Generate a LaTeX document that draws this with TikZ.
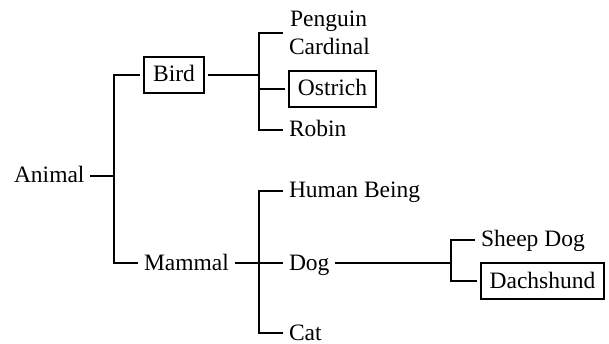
\documentclass[tikz,border=0pt]{standalone}
\usepackage{fontspec}
\setmainfont{Liberation Serif}
\begin{document}
\begin{tikzpicture}[x=1pt,y=-1pt,line width=2pt,
  lbl/.style={inner xsep=6pt,inner ysep=0pt,outer sep=0pt,text height=17pt,text depth=3pt,font=\fontsize{23.5}{28}\selectfont},
  boxed/.style={draw,inner xsep=9pt,inner ysep=8pt,outer sep=4pt,text height=17pt,text depth=3pt,font=\fontsize{23.5}{28}\selectfont}]
\useasboundingbox (0,0) rectangle (609,344);
% nodes
\node[lbl,anchor=west] (animal) at (8,176) {Animal};
\node[boxed] (bird) at (174,75) {Bird};
\node[lbl,anchor=west] (mammal) at (138,263) {Mammal};
\node[lbl,anchor=base west] (penguin) at (284,27) {Penguin};
\node[lbl,anchor=base west] (cardinal) at (283,55) {Cardinal};
\node[boxed] (ostrich) at (332.5,89) {Ostrich};
\node[lbl,anchor=west] (robin) at (283,130) {Robin};
\node[lbl,anchor=west] (human) at (283,191) {Human Being};
\node[lbl,anchor=west] (dog) at (283,263) {Dog};
\node[lbl,anchor=west] (cat) at (283,333) {Cat};
\node[lbl,anchor=west] (sheep) at (475,240) {Sheep Dog};
\node[boxed] (dachs) at (542.5,281) {Dachshund};
% junctions
\coordinate (j1) at (114,176);
\coordinate (j2) at (259,75);
\coordinate (j3) at (259,263);
\coordinate (j4) at (451,263);
\coordinate (pg) at (283,33);
% connectors
\draw (animal.east) -- (j1);
\draw (bird.west) -| (j1) |- (mammal.west);
\draw (bird.east) -- (j2);
\draw (pg) -| (j2) |- (robin.west);
\draw (j2 |- ostrich.west) -- (ostrich.west);
\draw (mammal.east) -- (dog.west);
\draw (human.west) -| (j3) |- (cat.west);
\draw (dog.east) -- (j4);
\draw (sheep.west) -| (j4) |- (dachs.west);
\end{tikzpicture}
\end{document}
